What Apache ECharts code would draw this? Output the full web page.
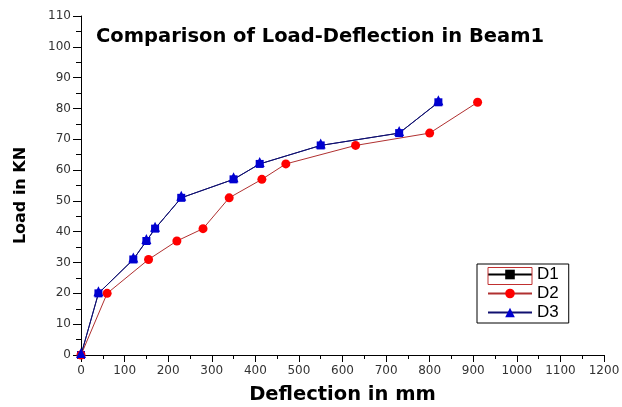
<!DOCTYPE html>
<html>
<head>
<meta charset="utf-8">
<script src="https://cdn.jsdelivr.net/npm/echarts@6/dist/echarts.min.js"></script>
<style>html,body{margin:0;padding:0;background:#fff;}#c{width:622px;height:407px;}</style>
</head>
<body>
<div id="c"></div>
<script>
const titleText = 'Comparison of Load-Deflection in Beam1';
const xName = 'Deflection in mm';
const yName = 'Load in KN';
const seriesNames = ['D1', 'D2', 'D3'];
const d1Deflection = [0, 40, 120, 150, 170, 230, 350, 410, 550, 730, 820];
const d1Load = [0, 20, 31, 37, 41, 51, 57, 62, 68, 72, 82];
const d2Deflection = [0, 60, 155, 220, 280, 340, 415, 470, 630, 800, 910];
const d2Load = [0, 20, 31, 37, 41, 51, 57, 62, 68, 72, 82];
const d3Deflection = [0, 40, 120, 150, 170, 230, 350, 410, 550, 730, 820];
const d3Load = [0, 20, 31, 37, 41, 51, 57, 62, 68, 72, 82];

const pairs = (xs, ys) => xs.map((x, i) => [x, ys[i]]);
const chart = echarts.init(document.getElementById('c'));
const labelFont = {color: '#333', fontSize: 12, fontFamily: 'DejaVu Sans'};
chart.setOption({
  backgroundColor: '#fff',
  animation: false,
  title: {
    text: titleText, left: 91, top: 22,
    textStyle: {color: '#000', fontSize: 19.5, fontWeight: 'bold', fontFamily: 'DejaVu Sans'}
  },
  grid: {left: 81, right: 18, top: 16, bottom: 52, containLabel: false, outerBoundsMode: 'none'},
  xAxis: {
    type: 'value', min: 0, max: 1200, interval: 100,
    name: xName, nameLocation: 'middle', nameGap: 30,
    nameTextStyle: {color: '#000', fontSize: 19.5, fontWeight: 'bold', fontFamily: 'DejaVu Sans'},
    axisLine: {show: true, lineStyle: {color: '#000', width: 1}},
    axisTick: {show: true, length: 7, inside: false, lineStyle: {color: '#000'}},
    minorTick: {show: true, splitNumber: 2, length: 4, lineStyle: {color: '#000'}},
    axisLabel: Object.assign({margin: 10, formatter: v => String(v)}, labelFont),
    splitLine: {show: false}
  },
  yAxis: {
    type: 'value', min: 0, max: 110, interval: 10,
    name: yName, nameLocation: 'middle', nameGap: 52,
    nameTextStyle: {color: '#000', fontSize: 16, fontWeight: 'bold', fontFamily: 'DejaVu Sans', padding: [0, 20, 0, 0]},
    axisLine: {show: true, lineStyle: {color: '#000', width: 1}},
    axisTick: {show: true, length: 8, inside: false, lineStyle: {color: '#000'}},
    minorTick: {show: true, splitNumber: 2, length: 5, lineStyle: {color: '#000'}},
    axisLabel: Object.assign({margin: 10, formatter: v => String(v)}, labelFont),
    splitLine: {show: false}
  },
  legend: {
    orient: 'vertical', left: 477, top: 264,
    padding: [2, 10, 2, 10],
    borderColor: '#000', borderWidth: 1,
    itemWidth: 44, itemHeight: 12, itemGap: 2,
    textStyle: {color: '#000', fontSize: 17, fontFamily: 'Liberation Sans'},
    data: [
      {name: 'D1', itemStyle: {color: '#000'}, lineStyle: {color: '#000'}},
      {name: 'D2'},
      {name: 'D3'}
    ]
  },
  graphic: [{
    type: 'rect', shape: {x: 488, y: 267.5, width: 44, height: 17},
    style: {fill: 'none', stroke: '#c03030', lineWidth: 1}, z: 100
  }],
  series: [
    {
      name: seriesNames[0], type: 'line', data: pairs(d1Deflection, d1Load),
      symbol: 'rect', symbolSize: 8,
      lineStyle: {color: '#101070', width: 1},
      itemStyle: {color: '#0000d0'}
    },
    {
      name: seriesNames[1], type: 'line', data: pairs(d2Deflection, d2Load),
      symbol: 'circle', symbolSize: 9,
      lineStyle: {color: '#b03030', width: 1},
      itemStyle: {color: '#ff0000'}
    },
    {
      name: seriesNames[2], type: 'line', data: pairs(d3Deflection, d3Load),
      symbol: 'triangle', symbolSize: 10, symbolOffset: [0, -2],
      lineStyle: {color: '#101070', width: 1},
      itemStyle: {color: '#0000d0'}
    }
  ]
});
</script>
</body>
</html>
